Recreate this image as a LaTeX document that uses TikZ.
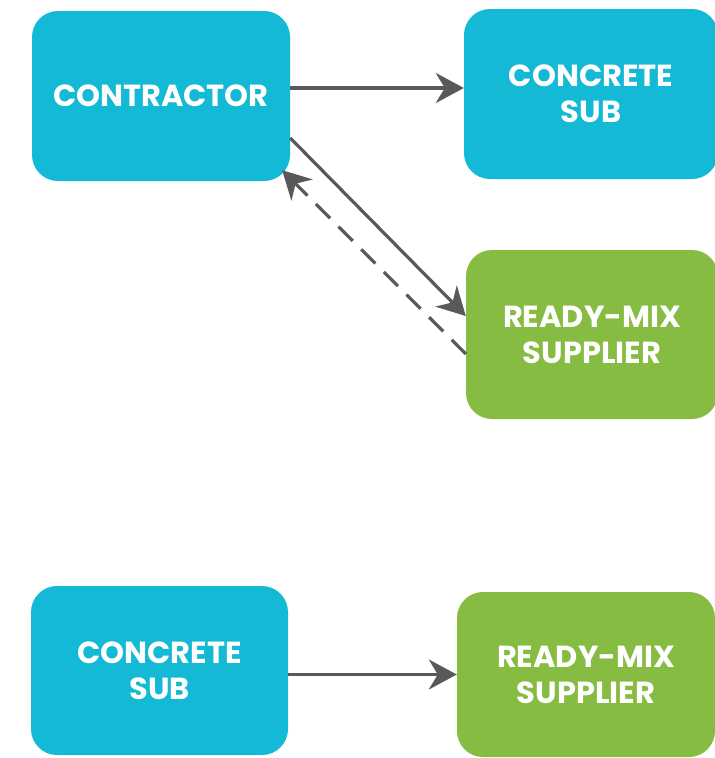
\documentclass[tikz,border=0pt]{standalone}
\usepackage{fontspec}
\setmainfont{Poppins}
\usetikzlibrary{arrows.meta}
\definecolor{subcyan}{HTML}{13B9D5}
\definecolor{mixgreen}{HTML}{86BC41}
\definecolor{linkgray}{HTML}{58595B}
\tikzset{
  party/.style={rounded corners=26pt, inner sep=0pt, align=center,
    text=white, font=\fontsize{30.5}{36}\selectfont\bfseries},
  subbox/.style={party, fill=subcyan},
  mixbox/.style={party, fill=mixgreen},
  link/.style={draw=linkgray, line width=3.2pt,
    -{Stealth[length=28pt, width=30pt, inset=9pt]}},
  backlink/.style={link, dash pattern=on 20pt off 12pt}
}
\begin{document}
\begin{tikzpicture}[x=1pt, y=-1pt]
  \useasboundingbox (0,0) rectangle (715,758);
  \clip (0,0) rectangle (715,758);

  % first row: contractor, its concrete sub and the ready-mix supplier
  \node[subbox, minimum width=258pt, minimum height=170pt] (contractor) at (161,96) {CONTRACTOR};
  \node[subbox, minimum width=254pt, minimum height=170pt] (sub1) at (591,94) {CONCRETE\\SUB};
  \node[mixbox, minimum width=252pt, minimum height=169pt] (mix1) at (592,334.5) {READY-MIX\\SUPPLIER};

  % second row: concrete sub ordering from the supplier
  \node[subbox, minimum width=257pt, minimum height=169pt] (sub2) at (159.5,670.5) {CONCRETE\\SUB};
  \node[mixbox, minimum width=258pt, minimum height=165pt] (mix2) at (586,674.5) {READY-MIX\\SUPPLIER};

  % connectors
  \draw[link] ([yshift=8pt]contractor.east) -- ([yshift=8pt]contractor.east -| sub1.west);
  \draw[link] ([yshift=-42pt]contractor.east) -- ([yshift=18.5pt]mix1.west);
  \draw[backlink] ([yshift=-19.5pt]mix1.west) -- ([shift={(-8pt,11pt)}]contractor.south east);
  \draw[link] (sub2.east |- mix2.west) -- (mix2.west);
\end{tikzpicture}
\end{document}
